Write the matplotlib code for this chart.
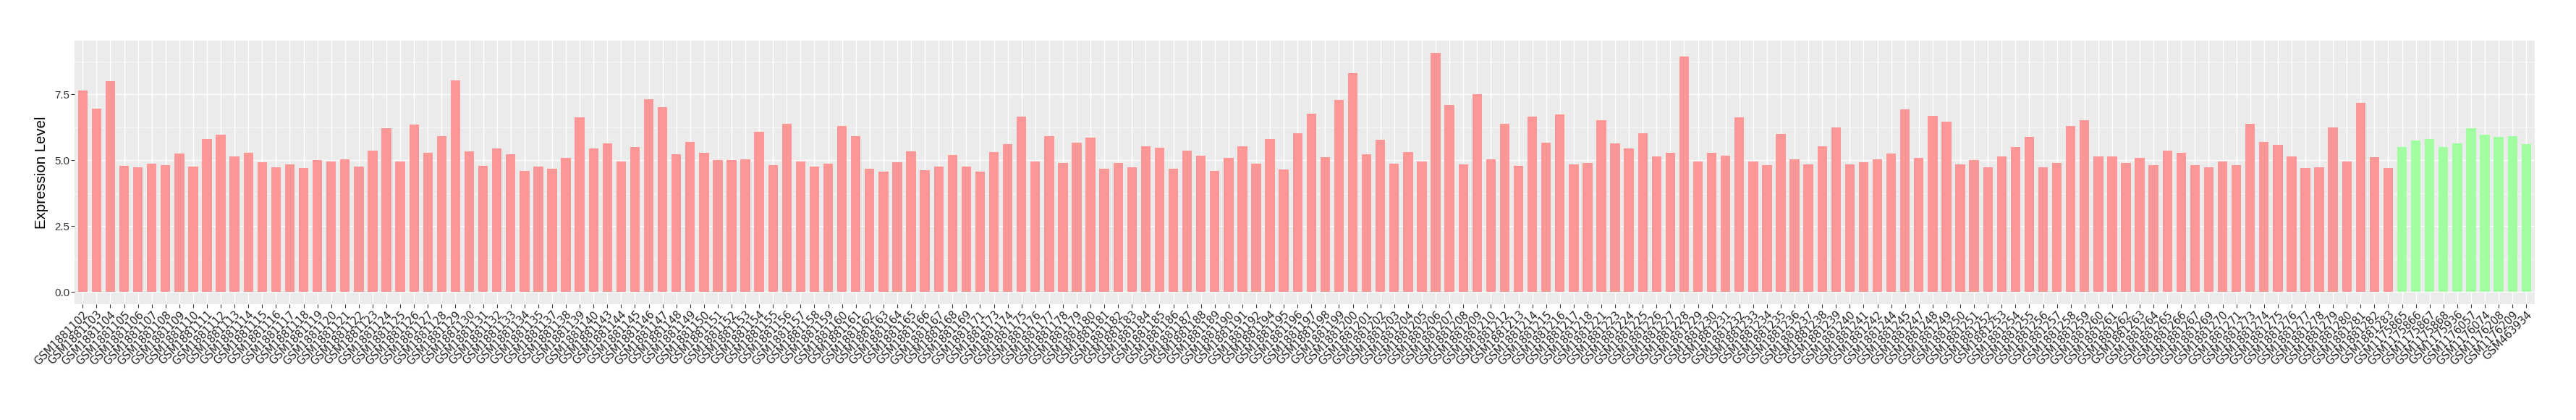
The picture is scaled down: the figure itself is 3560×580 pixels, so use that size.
# expression_barplot.py
# Per-sample expression level bar chart (ggplot-like look)
import matplotlib
matplotlib.use("Agg")
import matplotlib.pyplot as plt
from matplotlib.ticker import MultipleLocator

# sample ids (GSM1881xxx tumour samples, then normal samples)
tumor_ids = [102, 103, 104, 105, 106, 107, 108, 109, 110, 111, 112, 113, 114,
             115, 116, 117, 118, 119, 120, 121, 122, 123, 124, 125, 126,
             127, 128, 129, 130, 131, 132, 133, 134, 135, 137, 138, 139, 140,
             143, 144, 145, 146, 147, 148, 149, 150, 151, 152, 153,
             154, 155, 156, 157, 158, 159, 160, 161, 162, 163, 164, 165, 166,
             167, 168, 169, 171, 173, 174, 175, 176, 177, 178, 179, 180,
             181, 182, 183, 184, 185, 186, 187, 188, 189, 190, 191, 192, 194,
             195, 196, 197, 198, 199, 200, 201, 202, 203, 204, 205, 206,
             207, 208, 209, 210, 212, 213, 214, 215, 216, 217, 218, 221, 223,
             224, 225, 226, 227, 228, 229, 230, 231, 232, 233, 234,
             235, 236, 237, 238, 239, 240, 241, 242, 244, 245, 247, 248, 249,
             250, 251, 252, 253, 254, 255, 256, 257, 258, 259, 260, 261,
             262, 263, 264, 265, 266, 267, 269, 270, 271, 273, 274, 275, 276,
             277, 278, 279, 280, 281, 282, 283]
tumor_labels = [f"GSM1881{n}" for n in tumor_ids]

tumor_values = [7.64, 6.97, 8.00, 4.79, 4.73, 4.87, 4.82, 5.27, 4.76, 5.80, 5.96, 5.14, 5.29,
                4.92, 4.73, 4.84, 4.71, 5.00, 4.95, 5.03, 4.76, 5.38, 6.23, 4.97, 6.36,
                5.29, 5.93, 8.03, 5.35, 4.79, 5.45, 5.24, 4.61, 4.76, 4.68, 5.08, 6.62, 5.45,
                5.64, 4.95, 5.50, 7.32, 7.02, 5.24, 5.70, 5.29, 5.00, 5.00, 5.05,
                6.09, 4.82, 6.38, 4.97, 4.76, 4.87, 6.30, 5.91, 4.68, 4.58, 4.92, 5.35, 4.62,
                4.76, 5.21, 4.76, 4.58, 5.32, 5.61, 6.65, 4.97, 5.91, 4.89, 5.67, 5.85,
                4.68, 4.89, 4.73, 5.53, 5.48, 4.68, 5.38, 5.18, 4.61, 5.08, 5.53, 4.87, 5.80,
                4.65, 6.03, 6.76, 5.11, 7.29, 8.30, 5.24, 5.77, 4.87, 5.32, 4.97, 9.09,
                7.10, 4.84, 7.50, 5.03, 6.38, 4.79, 6.65, 5.67, 6.73, 4.84, 4.89, 6.52, 5.64,
                5.45, 6.03, 5.14, 5.29, 8.94, 4.97, 5.29, 5.18, 6.62, 4.95, 4.82,
                5.99, 5.05, 4.84, 5.53, 6.25, 4.84, 4.92, 5.05, 5.27, 6.94, 5.08, 6.68, 6.47,
                4.84, 5.00, 4.73, 5.14, 5.50, 5.88, 4.73, 4.89, 6.30, 6.52, 5.14, 5.16,
                4.89, 5.08, 4.82, 5.38, 5.29, 4.82, 4.73, 4.95, 4.82, 6.38, 5.70, 5.59, 5.16,
                4.71, 4.73, 6.25, 4.95, 7.18, 5.11, 4.71]

normal_labels = ["GSM1175865", "GSM1175866", "GSM1175867", "GSM1175868", "GSM1175936",
                 "GSM1176057", "GSM1176074", "GSM1176208", "GSM1176209", "GSM463934"]
normal_values = [5.50, 5.74, 5.82, 5.50, 5.64, 6.23, 5.96, 5.88, 5.91, 5.61]

tumor_color = "#FF9696"
normal_color = "#A1FFA1"

plt.rcParams["font.family"] = ["Liberation Sans", "DejaVu Sans"]

labels = tumor_labels + normal_labels
values = tumor_values + normal_values
colors = [tumor_color] * len(tumor_values) + [normal_color] * len(normal_values)
x = list(range(len(labels)))

fig = plt.figure(figsize=(35.6, 5.8), dpi=100)
ax = fig.add_axes([0.02889, 0.2759, 0.95502, 0.6276])
ax.set_facecolor("#EBEBEB")

ax.bar(x, values, width=0.7, color=colors, zorder=3)

# ggplot-style expansion
ymax = max(values)
ax.set_ylim(-0.05 * ymax, 1.05 * ymax)
ax.set_xlim(-0.6, len(labels) - 1 + 0.6)

ax.yaxis.set_minor_locator(MultipleLocator(1.25))
ax.set_yticks([0, 2.5, 5.0, 7.5])
ax.set_yticklabels(["0.0", "2.5", "5.0", "7.5"])
ax.grid(which="major", color="white", linewidth=1.0, zorder=0)
ax.grid(which="minor", axis="y", color="white", linewidth=0.5, zorder=0)
ax.set_axisbelow(True)

ax.set_xticks(x)
ax.set_xticklabels(labels, rotation=45, ha="right", va="top",
                   rotation_mode="anchor", fontsize=10.5, color="#222222",
                   family="DejaVu Sans")
for lab in ax.get_yticklabels():
    lab.set_fontsize(10.8)
    lab.set_color("#333333")

ax.tick_params(axis="both", which="major", length=3.3, width=0.8,
               color="#333333", pad=1.5)
ax.tick_params(axis="y", which="minor", length=0)

for s in ax.spines.values():
    s.set_visible(False)

ax.set_ylabel("Expression Level", fontsize=14.7, color="black", labelpad=6)

fig.savefig("out.png", dpi=100)
